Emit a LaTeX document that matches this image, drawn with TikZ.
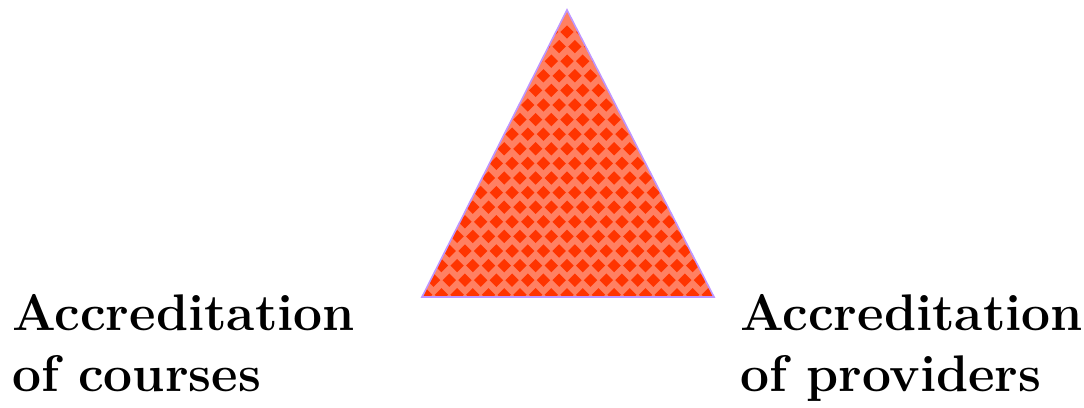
\documentclass[tikz,border=0pt]{standalone}
\usepackage{fontspec}
\definecolor{checklight}{RGB}{255,128,98}
\definecolor{checkdark}{RGB}{255,52,0}
\definecolor{triedge}{RGB}{190,150,255}
\tikzset{
  labeltext/.style={anchor=north west,inner sep=0pt,align=left,
    font=\fontsize{51.5}{61}\selectfont\bfseries},
}
\begin{document}
\begin{tikzpicture}[x=1pt,y=1pt]
\useasboundingbox (0,0) rectangle (1084,407);

% triangle corners
\coordinate (apex) at (567,397);
\coordinate (baseL) at (422,110);
\coordinate (baseR) at (714,110);

% checked fill
\begin{scope}
\clip (apex) -- (baseL) -- (baseR) -- cycle;
\fill[checklight] (apex) -- (baseL) -- (baseR) -- cycle;
\foreach \j in {0,...,20}{
  \foreach \i in {-11,...,11}{
    \pgfmathsetmacro{\cx}{567+15.7*\i+7.85*mod(\j,2)}
    \pgfmathsetmacro{\cy}{375-14.6*\j}
    \fill[checkdark] (\cx-6.7,\cy) -- (\cx,\cy+6.7) -- (\cx+6.7,\cy) -- (\cx,\cy-6.7) -- cycle;
  }
}
\end{scope}
\draw[triedge,line width=1.6pt,line join=miter] (apex) -- (baseL) -- (baseR) -- cycle;

% the two labels
\node[labeltext] (courses) at (12,113) {Accreditation\\of courses};
\node[labeltext] (providers) at (740,113) {Accreditation\\of providers};
\end{tikzpicture}
\end{document}
